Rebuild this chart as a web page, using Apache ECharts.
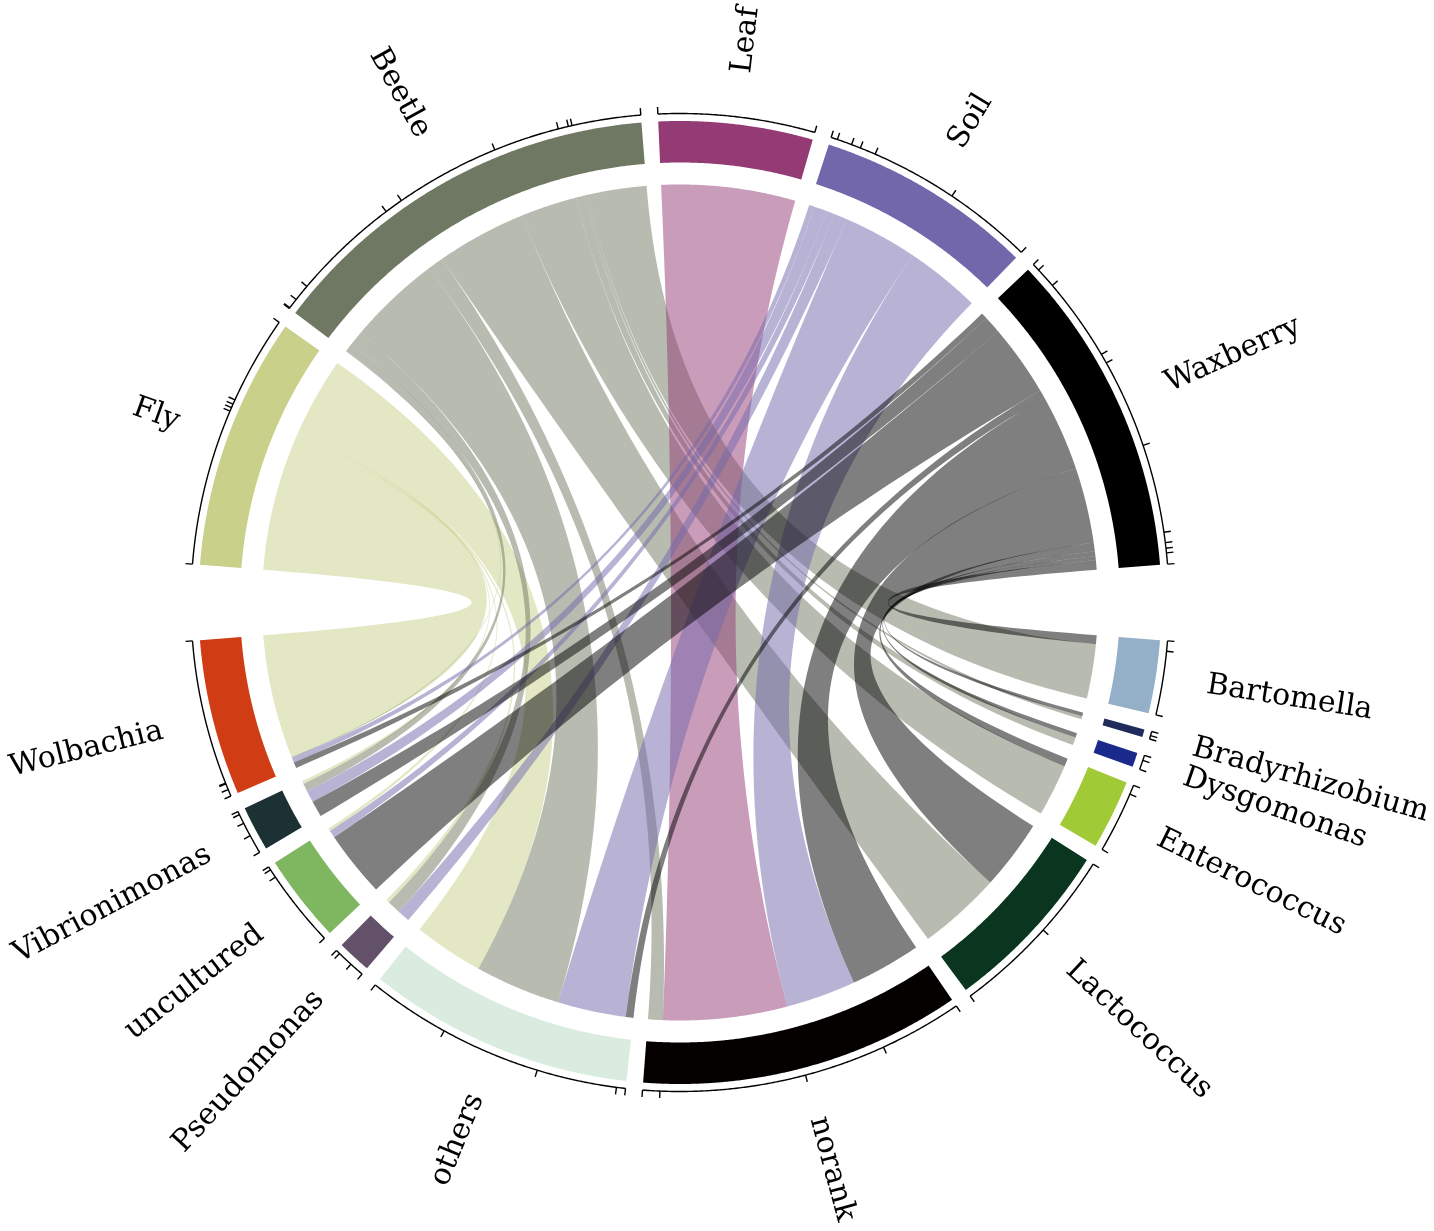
<!DOCTYPE html>
<html><head><meta charset="utf-8">
<script src="https://cdn.jsdelivr.net/npm/echarts@6/dist/echarts.min.js"></script>
<style>html,body{margin:0;padding:0;background:#fff}#c{width:1434px;height:1231px}</style>
</head><body><div id="c"></div>
<script>
// ---------- data ----------
const samples = ['Fly', 'Beetle', 'Leaf', 'Soil', 'Waxberry'];
const taxa = ['Bartomella', 'Bradyrhizobium', 'Dysgomonas', 'Enterococcus', 'Lactococcus',
  'norank', 'others', 'Pseudomonas', 'uncultured', 'Vibrionimonas', 'Wolbachia'];
// link values, one array per sample, in the order of `taxa`
const flyValues      = [0,   0,   0,   0,   0,    0,     9.5,  0.5, 0.4, 0.4, 16.8];
const beetleValues   = [7.4, 0.4, 1.1, 7.1, 11.3, 2.0,   11.6, 1.8, 0,   1.1, 0.1];
const leafValues     = [0,   0,   0,   0,   0,    16.85, 0,    0,   0,   0,   0];
const soilValues     = [0,   0,   0,   0,   0,    9.5,   9.3,  1.7, 1.0, 1.6, 0.7];
const waxberryValues = [1.2, 0.5, 0.6, 1.1, 9.5,  9.6,   1.05, 0,   9.0, 2.2, 0.8];
const sampleColors = ['#c8d089', '#6f7862', '#943a75', '#7267ab', '#000000'];
const taxaColors = ['#94afc8', '#1f2b5b', '#1a2a8c', '#a1cb36', '#0a361f', '#050000',
  '#daebdf', '#625168', '#7fb761', '#1b3133', '#d03c13'];

// ---------- layout ----------
const matrix = [flyValues, beetleValues, leafValues, soilValues, waxberryValues];
const CX = 680, CY = 602.5;
const R_RIB = 418, R_IN = 440, R_OUT = 481.5, R_AXIS = 489, TICK = 7, R_LABEL = 533;
const GAP = 2, HALF = 171, TOP_START = 175.5, BOT_START = -4.5;

const nS = samples.length, nT = taxa.length;
const rowSums = matrix.map(r => r.reduce((a, b) => a + b, 0));
const colSums = taxa.map((_, j) => matrix.reduce((a, r) => a + r[j], 0));
const total = rowSums.reduce((a, b) => a + b, 0);
const kTop = (HALF - GAP * (nS - 1)) / total;
const kBot = (HALF - GAP * (nT - 1)) / total;

const sectors = [];   // {name,color,a0,a1,ticks:[]}
const linkS = matrix.map(() => new Array(nT).fill(null));
const linkT = matrix.map(() => new Array(nT).fill(null));

let cur = TOP_START;
for (let i = 0; i < nS; i++) {
  const a0 = cur, a1 = cur - kTop * rowSums[i];
  const ticks = [a0];
  let pos = a0;
  for (let j = nT - 1; j >= 0; j--) {
    const v = matrix[i][j];
    if (v > 0) { linkS[i][j] = [pos, pos - kTop * v]; pos -= kTop * v; ticks.push(pos); }
  }
  sectors.push({ name: samples[i], color: sampleColors[i], a0, a1, ticks });
  cur = a1 - GAP;
}
cur = BOT_START;
for (let j = 0; j < nT; j++) {
  const a0 = cur, a1 = cur - kBot * colSums[j];
  const ticks = [a0];
  let pos = a0;
  for (let i = nS - 1; i >= 0; i--) {
    const v = matrix[i][j];
    if (v > 0) { linkT[i][j] = [pos, pos - kBot * v]; pos -= kBot * v; ticks.push(pos); }
  }
  sectors.push({ name: taxa[j], color: taxaColors[j], a0, a1, ticks });
  cur = a1 - GAP;
}

function pt(r, a) { const t = a * Math.PI / 180; return [CX + r * Math.cos(t), CY - r * Math.sin(t)]; }
function arc(r, a0, a1) {
  const n = Math.max(2, Math.ceil(Math.abs(a1 - a0) / 0.2));
  const out = [];
  for (let k = 0; k <= n; k++) out.push(pt(r, a0 + (a1 - a0) * k / n));
  return out;
}
function bez(P, Q) {
  const out = [];
  const n = 60;
  for (let k = 1; k < n; k++) {
    const t = k / n, u = 1 - t;
    out.push([u * u * P[0] + 2 * u * t * CX + t * t * Q[0], u * u * P[1] + 2 * u * t * CY + t * t * Q[1]]);
  }
  return out;
}
function hexA(hex, a) {
  const n = parseInt(hex.slice(1), 16);
  return 'rgba(' + ((n >> 16) & 255) + ',' + ((n >> 8) & 255) + ',' + (n & 255) + ',' + a + ')';
}

// data for the series
const linkData = [];
for (let i = 0; i < nS; i++) for (let j = 0; j < nT; j++) if (matrix[i][j] > 0) linkData.push([i, j, matrix[i][j]]);
const sectorData = sectors.map((s, k) => [k, k < nS ? rowSums[k] : colSums[k - nS]]);

const option = {
  animation: false,
  backgroundColor: '#ffffff',
  xAxis: { show: false }, yAxis: { show: false },
  series: [
    {
      type: 'custom', coordinateSystem: 'none', silent: true,
      data: linkData,
      renderItem: function (params, api) {
        const i = api.value(0), j = api.value(1);
        const s = linkS[i][j], t = linkT[i][j];
        const pts = [].concat(arc(R_RIB, s[0], s[1]), bez(pt(R_RIB, s[1]), pt(R_RIB, t[0])),
          arc(R_RIB, t[0], t[1]), bez(pt(R_RIB, t[1]), pt(R_RIB, s[0])));
        return { type: 'polygon', shape: { points: pts }, style: { fill: hexA(sampleColors[i], 0.5), stroke: null } };
      }
    },
    {
      type: 'custom', coordinateSystem: 'none', silent: true,
      data: sectorData,
      renderItem: function (params, api) {
        const s = sectors[api.value(0)];
        const pts = [].concat(arc(R_OUT, s.a0, s.a1), arc(R_IN, s.a1, s.a0));
        const children = [{ type: 'polygon', shape: { points: pts }, style: { fill: s.color } }];
        children.push({ type: 'polyline', shape: { points: arc(R_AXIS, s.a0, s.a1) },
          style: { stroke: '#000', lineWidth: 1.4, fill: null } });
        s.ticks.forEach(a => {
          const p0 = pt(R_AXIS, a), p1 = pt(R_AXIS + TICK, a);
          children.push({ type: 'line', shape: { x1: p0[0], y1: p0[1], x2: p1[0], y2: p1[1] },
            style: { stroke: '#000', lineWidth: 1.4 } });
        });
        const m = (s.a0 + s.a1) / 2;
        const p = pt(R_LABEL, m);
        const right = Math.cos(m * Math.PI / 180) >= -1e-6;
        children.push({
          type: 'text', x: p[0], y: p[1],
          rotation: (right ? m : m - 180) * Math.PI / 180,
          style: { text: s.name, x: 0, y: 0, fill: '#000', font: '30px "DejaVu Serif"',
            align: right ? 'left' : 'right', verticalAlign: 'middle' }
        });
        return { type: 'group', children };
      }
    }
  ]
};
const chart = echarts.init(document.getElementById('c'));
chart.setOption(option);
</script></body></html>
